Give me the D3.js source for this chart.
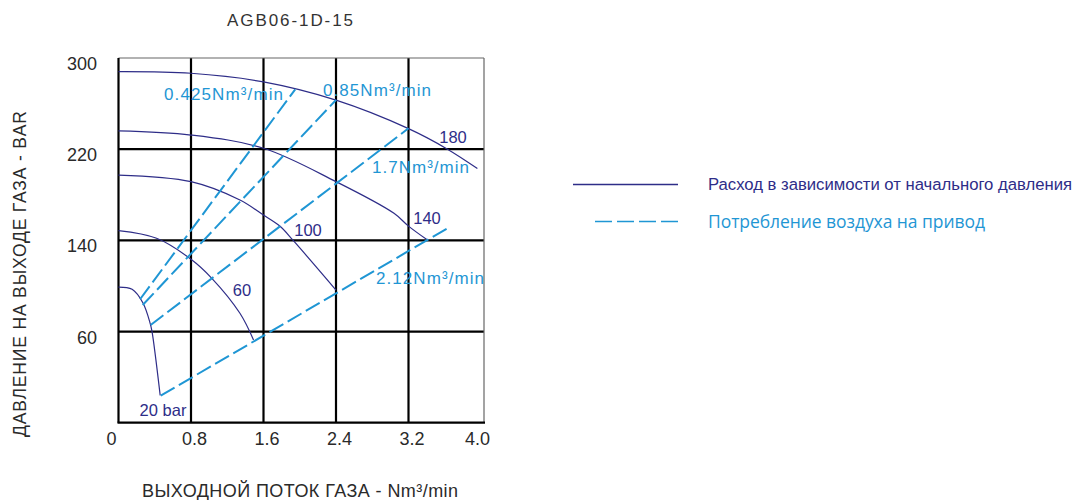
<!DOCTYPE html>
<html><head><meta charset="utf-8">
<script src="https://cdn.jsdelivr.net/npm/d3@7"></script>
<style>body{margin:0;background:#fff}svg{display:block}</style>
</head><body>
<svg id="c" width="1091" height="500"></svg>
<script>
// ---- data ----
const title = "AGB06-1D-15";
const xTicks = [0, 0.8, 1.6, 2.4, 3.2, 4.0];
const yTicks = [60, 140, 220, 300];
const pressureLabels = ["20 bar", "60", "100", "140", "180"];
const curve20  = [[0,99],[0.15,97],[0.27,85],[0.35,67],[0.37,60],[0.46,4]];
const curve60  = [[0,148.5],[0.42,141.8],[0.8,123.4],[1.03,106.7],[1.34,76],[1.49,52.6]];
const curve100 = [[0,197.3],[0.8,191.5],[1.34,175.4],[1.6,162.2],[1.78,152.6],[1.93,139.7],[2.4,96.4]];
const curve140 = [[0,236],[0.8,232.4],[1.6,220.8],[2.4,191.5],[3.04,163.7],[3.2,152.5],[3.41,140.3]];
const curve180 = [[0,288],[0.8,286.6],[1.6,279],[2.4,263],[3.2,238],[3.63,220],[3.96,203]];
const airLabels = ["0.425Nm³/min", "0.85Nm³/min", "1.7Nm³/min", "2.12Nm³/min"];
const air0425 = [[0.238,88.3],[1.95,272.5]];
const air085  = [[0.267,83.3],[2.4,263.2]];
const air17   = [[0.355,65.7],[3.2,238.3]];
const air212  = [[0.466,3.7],[3.66,152]];
const legendLabels = ["Расход в зависимости от начального давления", "Потребление воздуха на привод"];

// ---- layout ----
const svg = d3.select("#c");
const dark = "#2e2d88", light = "#1f96d4";
const x = d3.scaleLinear().domain([0, 4]).range([118.5, 481]);
const y = d3.scaleLinear().domain([-20, 300]).range([422.7, 58]);
const font = "Liberation Sans, Arial, sans-serif";

// grid
const g = svg.append("g");
g.selectAll(".vg").data(xTicks.slice(1, -1)).join("line")
  .attr("x1", d => x(d)).attr("x2", d => x(d)).attr("y1", y(300)).attr("y2", y(-20))
  .attr("stroke", "#000").attr("stroke-width", 2.2);
g.selectAll(".hg").data(yTicks.slice(0, -1)).join("line")
  .attr("x1", x(0)).attr("x2", 484).attr("y1", d => y(d)).attr("y2", d => y(d))
  .attr("stroke", "#000").attr("stroke-width", 2.2);
// frame
g.append("line").attr("x1", x(0)).attr("x2", 484).attr("y1", y(300)).attr("y2", y(300)).attr("stroke", "#666").attr("stroke-width", 1.2);
g.append("line").attr("x1", 484).attr("x2", 484).attr("y1", y(300)).attr("y2", y(-20)).attr("stroke", "#666").attr("stroke-width", 1.2);
g.append("line").attr("x1", x(0)).attr("x2", x(0)).attr("y1", y(300)).attr("y2", y(-20)).attr("stroke", "#000").attr("stroke-width", 2.2);
g.append("line").attr("x1", x(0)-1).attr("x2", 485).attr("y1", y(-20)).attr("y2", y(-20)).attr("stroke", "#000").attr("stroke-width", 2.2);

// tick labels
svg.selectAll(".xt").data(xTicks).join("text")
  .attr("x", (d, i) => x(d) + (i === 0 ? -7 : (i === xTicks.length - 1 ? -3.5 : 3.5)))
  .attr("y", 444.5).attr("text-anchor", "middle")
  .attr("font-family", font).attr("font-size", 18).attr("fill", "#2a2a2a")
  .text(d => d === 0 ? "0" : d.toFixed(1));
svg.selectAll(".yt").data(yTicks).join("text")
  .attr("x", 97).attr("y", d => y(d) + 12).attr("text-anchor", "end")
  .attr("font-family", font).attr("font-size", 18).attr("fill", "#2a2a2a")
  .text(d => d);

// curves
const line = d3.line().x(d => x(d[0])).y(d => y(d[1])).curve(d3.curveCatmullRom.alpha(0.5));
[curve20, curve60, curve100, curve140, curve180].forEach(c => {
  svg.append("path").attr("d", line(c)).attr("fill", "none").attr("stroke", dark).attr("stroke-width", 1.2);
});
const straight = d3.line().x(d => x(d[0])).y(d => y(d[1]));
[air0425, air085, air17, air212].forEach(c => {
  svg.append("path").attr("d", straight(c)).attr("fill", "none").attr("stroke", light)
    .attr("stroke-width", 2).attr("stroke-dasharray", "16,5");
});

// curve labels
const pl = [[163,416],[242,296],[308,236],[427,224],[453,142.5]];
pressureLabels.forEach((t, i) => {
  svg.append("text").attr("x", pl[i][0]).attr("y", pl[i][1]).attr("text-anchor", "middle")
    .attr("font-family", font).attr("font-size", 16.5).attr("fill", dark).text(t);
});
const al = [[164,99.5,119],[323,95.5,108],[372,173,97],[376,283.5,108]];
airLabels.forEach((t, i) => {
  svg.append("text").attr("x", al[i][0]).attr("y", al[i][1])
    .attr("font-family", font).attr("font-size", 17).attr("fill", light)
    .attr("textLength", al[i][2]).attr("lengthAdjust", "spacing").text(t);
});

// title and axis titles
svg.append("text").attr("x", 227).attr("y", 26)
  .attr("font-family", font).attr("font-size", 17).attr("fill", "#333")
  .attr("textLength", 126).attr("lengthAdjust", "spacing").text(title);
svg.append("text").attr("x", 142).attr("y", 497)
  .attr("font-family", font).attr("font-size", 18).attr("fill", "#2a2a2a")
  .attr("textLength", 316).attr("lengthAdjust", "spacing").text("ВЫХОДНОЙ ПОТОК ГАЗА - Nm³/min");
svg.append("text").attr("transform", "translate(26,437) rotate(-90)")
  .attr("font-family", font).attr("font-size", 17.5).attr("fill", "#2a2a2a")
  .attr("textLength", 326).attr("lengthAdjust", "spacing").text("ДАВЛЕНИЕ НА ВЫХОДЕ ГАЗА - BAR");

// legend
svg.append("line").attr("x1", 573).attr("x2", 678).attr("y1", 184.5).attr("y2", 184.5).attr("stroke", dark).attr("stroke-width", 1.3);
svg.append("line").attr("x1", 595).attr("x2", 678).attr("y1", 221.5).attr("y2", 221.5).attr("stroke", light).attr("stroke-width", 1.3).attr("stroke-dasharray", "17,5");
svg.append("text").attr("x", 708).attr("y", 189.5).attr("font-family", font).attr("font-size", 16.7).attr("fill", dark)
  .attr("textLength", 364).attr("lengthAdjust", "spacing").text(legendLabels[0]);
svg.append("text").attr("x", 708).attr("y", 228).attr("font-family", "Open Sans, sans-serif").attr("font-size", 17.5).attr("fill", light)
  .attr("textLength", 277).attr("lengthAdjust", "spacing").text(legendLabels[1]);
</script>
</body></html>
